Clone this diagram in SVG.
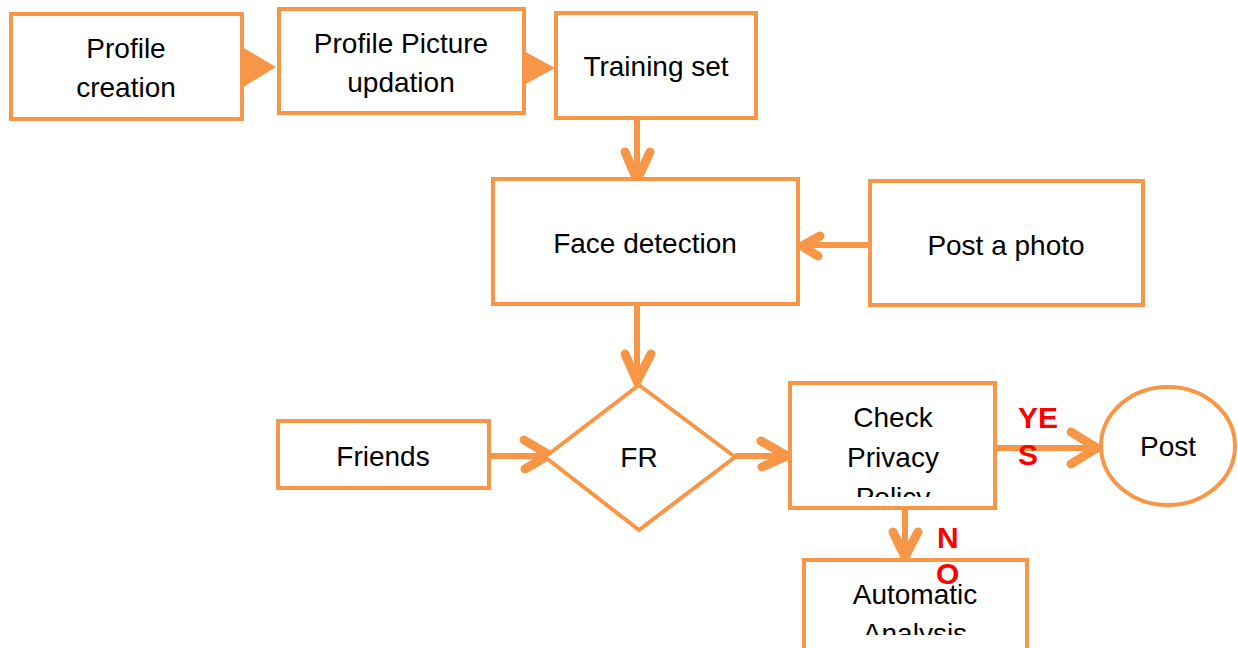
<svg xmlns="http://www.w3.org/2000/svg" width="1238" height="648" viewBox="0 0 1238 648">
<style>
.box{fill:#fff;stroke:#F79646;stroke-width:4}
.t{font-family:"Liberation Sans",Arial,sans-serif;font-size:28px;fill:#000;text-anchor:middle}
.ln{stroke:#F79646;stroke-width:6;fill:none}
.hd{stroke:#F79646;stroke-width:9;fill:none;stroke-linecap:round;stroke-linejoin:miter}
.tri{fill:#F79646}
.lbl{font-family:"Liberation Sans",Arial,sans-serif;font-size:30px;font-weight:bold;fill:#FF0000}
</style>
<defs>
<clipPath id="cp1"><rect x="790" y="383" width="205" height="114"/></clipPath>
<clipPath id="cp2"><rect x="804" y="560" width="223" height="75"/></clipPath>
</defs>
<rect width="1238" height="648" fill="#fff"/>
<g id="connectors">
<polygon class="tri" points="242,47 276,67 242,88"/>
<polygon class="tri" points="522,50 555,68 522,86"/>
<line class="ln" x1="637" y1="118" x2="637" y2="178"/>
<polyline class="hd" points="625,152 637,180 650,152"/>
<line class="ln" x1="870" y1="245" x2="804" y2="245"/>
<polyline class="hd" points="820,236 802,246 818,256"/>
<line class="ln" x1="637" y1="304" x2="637" y2="378"/>
<polyline class="hd" points="625,354 637,381 651,354"/>
<line class="ln" x1="489" y1="456" x2="546" y2="456"/>
<polyline class="hd" points="524,440 549,455 525,469"/>
<line class="ln" x1="735" y1="456" x2="786" y2="456"/>
<polyline class="hd" points="761,441 787,456 762,467"/>
<line class="ln" x1="995" y1="448" x2="1096" y2="448"/>
<polyline class="hd" points="1071,432 1097,448 1071,464"/>
<line class="ln" x1="905" y1="508" x2="905" y2="556"/>
<polyline class="hd" points="893,532 905,557 918,532"/>
</g>
<g id="profile-creation">
<rect class="box" x="11" y="14" width="231" height="105"/>
<text class="t" x="126" y="58">Profile</text>
<text class="t" x="126" y="97">creation</text>
</g>
<g id="profile-picture">
<rect class="box" x="279" y="9" width="245" height="104"/>
<text class="t" x="401" y="53">Profile Picture</text>
<text class="t" x="401" y="92">updation</text>
</g>
<g id="training-set">
<rect class="box" x="556" y="13" width="200" height="105"/>
<text class="t" x="656" y="76">Training set</text>
</g>
<g id="face-detection">
<rect class="box" x="493" y="179" width="305" height="125"/>
<text class="t" x="645" y="253">Face detection</text>
</g>
<g id="post-photo">
<rect class="box" x="870" y="181" width="273" height="124"/>
<text class="t" x="1006" y="255">Post a photo</text>
</g>
<g id="friends">
<rect class="box" x="278" y="421" width="211" height="67"/>
<text class="t" x="383" y="466">Friends</text>
</g>
<g id="fr">
<polygon class="box" points="639,385 735,457 639,530 545,457"/>
<text class="t" x="639" y="467">FR</text>
</g>
<g id="check-privacy">
<rect class="box" x="790" y="383" width="205" height="125"/>
<g clip-path="url(#cp1)">
<text class="t" x="893" y="427">Check</text>
<text class="t" x="893" y="467">Privacy</text>
<text class="t" x="893" y="507">Policy</text>
</g>
</g>
<g id="post">
<ellipse class="box" cx="1168" cy="446" rx="67" ry="59"/>
<text class="t" x="1168" y="456">Post</text>
</g>
<g id="automatic-analysis">
<rect class="box" x="804" y="560" width="223" height="92"/>
<g clip-path="url(#cp2)">
<text class="t" x="915" y="604">Automatic</text>
<text class="t" x="915" y="643">Analysis</text>
</g>
</g>
<g id="labels">
<text class="lbl" x="1018" y="428">YE</text>
<text class="lbl" x="1018" y="465">S</text>
<text class="lbl" x="937" y="548">N</text>
<text class="lbl" x="936" y="584">O</text>
</g>
</svg>
